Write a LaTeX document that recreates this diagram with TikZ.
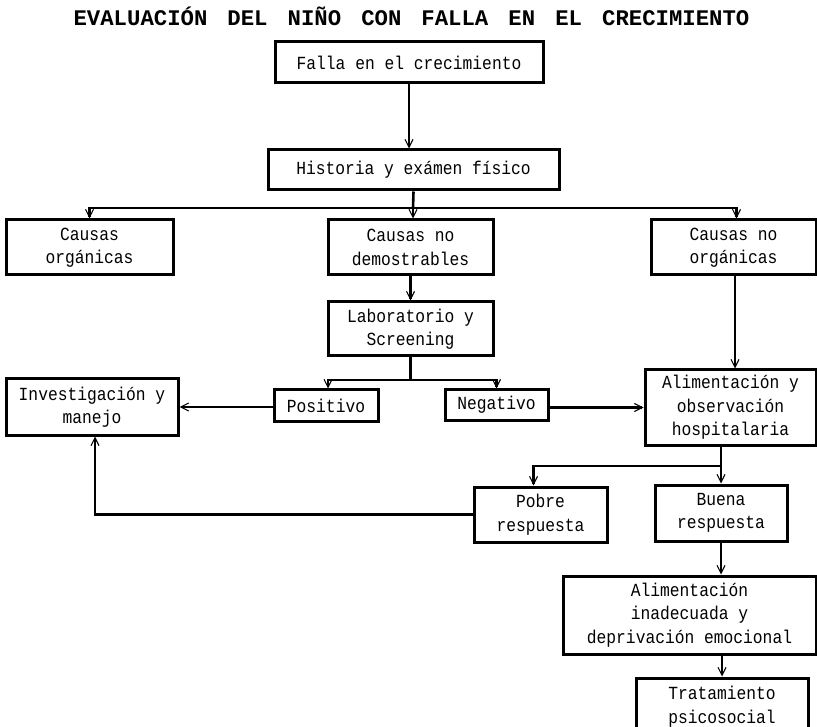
\documentclass[tikz,border=0pt]{standalone}
\usepackage{fontspec}
\setmainfont[FakeStretch=0.88]{Liberation Mono}
\newfontfamily\titlefont[WordSpace=1.5]{Liberation Mono}
\usetikzlibrary{positioning, arrows.meta, calc}
\tikzset{
	conn/.style={draw, line width=2.6pt}
}

\begin{document}
\begin{tikzpicture}[x=1pt, y=-1pt,
	box/.style={draw, line width=3pt, align=center, inner sep=0pt,
		font=\fontsize{18.5}{23.5}\selectfont},
	>={Straight Barb[length=8pt,width=8pt,line width'=1.1pt]}]
	\useasboundingbox (0,0) rectangle (817,727);
	\node[font=\titlefont\bfseries\fontsize{22.3}{26}\selectfont] (title) at (411.5,16) {EVALUACIÓN DEL NIÑO CON FALLA EN EL CRECIMIENTO};
	\node[box, minimum width=268, minimum height=41] (falla) at (409,62.5) {Falla en el crecimiento};
	\node[box, minimum width=291, minimum height=40] (hist) at (413.5,170) {Historia y exámen físico};
	\node[box, minimum width=167, minimum height=55] (corg) at (89.5,247.5) {Causas\\orgánicas};
	\node[box, minimum width=165, minimum height=55] (cnodem) at (410.5,247.5) {Causas no\\demostrables};
	\node[box, minimum width=165, minimum height=55] (cnoorg) at (733.5,247.5) {Causas no\\orgánicas};
	\node[box, minimum width=165, minimum height=54] (lab) at (410.5,329) {Laboratorio y\\Screening};
	\node[box, minimum width=104, minimum height=31] (pos) at (326,405.5) {Positivo};
	\node[box, minimum width=103, minimum height=30] (neg) at (496.5,405) {Negativo};
	\node[box, minimum width=172, minimum height=56] (inv) at (92,407) {Investigación y\\manejo};
	\node[box, minimum width=171, minimum height=75] (alobs) at (730.5,407.5) {Alimentación y\\observación\\hospitalaria};
	\node[box, minimum width=133, minimum height=55] (pobre) at (540.5,514.5) {Pobre\\respuesta};
	\node[box, minimum width=132, minimum height=56] (buena) at (721,513) {Buena\\respuesta};
	\node[box, minimum width=253, minimum height=78] (alinad) at (689.5,615) {Alimentación\\inadecuada y\\deprivación emocional};
	\node[box, minimum width=172, minimum height=57] (trat) at (722,706.5) {Tratamiento\\psicosocial};
	% branch points
	\coordinate (hsplit) at (413,208);
	\coordinate (lsplit) at (410.5,380);
	\coordinate (asplit) at (721,466);
	\draw[conn, ->] (falla.south) -- (falla.south |- hist.north);
	\draw[conn] (hist.south) -- (hsplit);
	\draw[conn, ->] (hsplit) -| (corg.north);
	\draw[conn, ->] (hsplit) -| ([xshift=3pt]cnoorg.north);
	\draw[conn, ->] (hsplit) -- (hsplit |- cnodem.north);
	\draw[conn, ->] (cnodem.south) -- (lab.north);
	\draw[conn] (lab.south) -- (lsplit);
	\draw[conn, ->] (lsplit) -| ([xshift=2pt]pos.north);
	\draw[conn, ->] (lsplit) -| (neg.north);
	\draw[conn, ->] (pos.west |- inv.east) -- (inv.east);
	\draw[conn, ->] (neg.east |- alobs.west) -- (alobs.west);
	\draw[conn, ->] ([xshift=1.5pt]cnoorg.south) -- ([xshift=1.5pt]cnoorg.south |- alobs.north);
	\draw[conn] (asplit |- alobs.south) -- (asplit);
	\draw[conn, ->] (asplit) -| ([xshift=-7pt]pobre.north);
	\draw[conn, ->] (asplit) -- (buena.north);
	\draw[conn, ->] (pobre.west) -| ([xshift=3pt]inv.south);
	\draw[conn, ->] (buena.south) -- (buena.south |- alinad.north);
	\draw[conn, ->] (trat.north |- alinad.south) -- (trat.north);
\end{tikzpicture}
\end{document}
